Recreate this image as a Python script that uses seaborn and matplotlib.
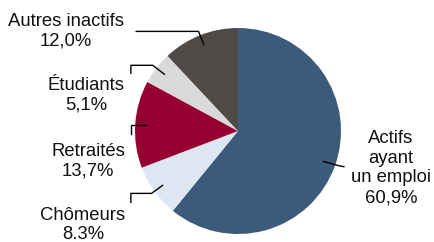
import numpy as np
import matplotlib
matplotlib.use('Agg')
import matplotlib.pyplot as plt
import seaborn as sns

# Data
categories = ['Actifs\nayant\nun emploi', 'Chômeurs', 'Retraités', 'Étudiants', 'Autres inactifs']
shares = [60.9, 8.3, 13.7, 5.1, 12.0]
share_labels = ['60,9%', '8.3%', '13,7%', '5,1%', '12,0%']
colors = ['#3c5a79', '#dde7f2', '#960030', '#d9d9d9', '#4f4a48']

sns.set_theme(style='white')
plt.rcParams['font.family'] = ['Liberation Sans', 'DejaVu Sans']

fig = plt.figure(figsize=(4.34, 2.42), dpi=100)
ax = fig.add_axes([0, 0, 1, 1])

# center at (238, 131) px, radius 103 px
cx, cy, R = 238, 131, 103
W, H = 434, 242

wedges, _ = ax.pie(shares, colors=colors, startangle=90, counterclock=False,
                   wedgeprops=dict(linewidth=0))
ax.set_aspect('equal')
ax.set_xlim(-cx / R, (W - cx) / R)
ax.set_ylim((cy - H) / R, cy / R)
ax.axis('off')

fs = 13.3
kw = dict(fontsize=fs, ha='center', va='center', linespacing=1.22, color='#111111')

# mid angles of wedges
mids = [np.deg2rad((w.theta1 + w.theta2) / 2) for w in wedges]

def px(x, y):
    return (x - cx) / R, (cy - y) / R

# Actifs ayant un emploi: short leader to the right
a = mids[0]
p0 = (0.88 * np.cos(a), 0.88 * np.sin(a))
p1 = (1.02 * np.cos(a), 1.02 * np.sin(a) + 0.01)
p2 = (p1[0] + 0.07, p1[1] - 0.015)
ax.plot([p0[0], p1[0], p2[0]], [p0[1], p1[1], p2[1]], color='black', lw=1)
ax.text(*px(391, 168), categories[0] + '\n' + share_labels[0], **kw)

# left side labels: leader goes out to elbow then horizontally to label
left = [
    (4, px(66, 31), 1.04, -0.99, None),
    (3, px(86, 95), 1.045, -1.04, -0.08),
    (2, px(88, 161), None, -1.04, -0.09),
    (1, px(83, 225), 1.035, -1.04, -0.09),
]
for i, pos, r_el, x_end, tick in left:
    a = mids[i]
    s = (0.9 * np.cos(a), 0.9 * np.sin(a))
    if r_el is not None:
        e = (r_el * np.cos(a), r_el * np.sin(a))
        xs = [s[0], e[0], x_end]
        ys = [s[1], e[1], e[1]]
    else:
        xs = [s[0], x_end]
        ys = [s[1], s[1]]
    if tick is not None:
        xs.append(x_end)
        ys.append(ys[-1] + tick)
    ax.plot(xs, ys, color='black', lw=1)
    ax.text(*pos, categories[i] + '\n' + share_labels[i], **kw)

fig.savefig('out.png', dpi=100, facecolor='white')
